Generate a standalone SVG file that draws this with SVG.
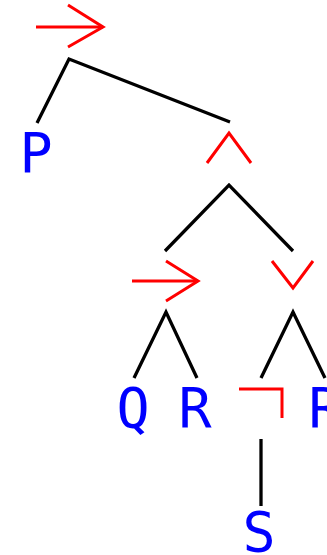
<svg xmlns="http://www.w3.org/2000/svg" width="327" height="555" viewBox="0 0 327 555">
<style>
.op{fill:none;stroke:#ff0000;stroke-width:3;stroke-linecap:butt;stroke-linejoin:miter}
.edge{fill:none;stroke:#000;stroke-width:3.3}
.lbl{font-family:"DejaVu Sans Mono","Liberation Mono",monospace;font-size:55px;fill:#0000ff;text-anchor:middle}
</style>
<rect width="327" height="555" fill="#fff"/>
<g id="connectors">
<polyline class="edge" points="37,123 69,59 230,122"/>
<polyline class="edge" points="165,251 229,185 293,251"/>
<polyline class="edge" points="134,378 166,312 197,378"/>
<polyline class="edge" points="261,378 293,312 325,378"/>
<line class="edge" x1="261" y1="439" x2="261" y2="506"/>
</g>
<g id="n-imp1">
<line class="op" x1="36" y1="27" x2="103" y2="27"/>
<polyline class="op" points="68,5 103,27 68,47"/>
</g>
<g id="n-P"><text class="lbl" x="36" y="172">P</text></g>
<g id="n-and"><polyline class="op" points="207,163 229,133 251,163"/></g>
<g id="n-imp2">
<line class="op" x1="132" y1="281" x2="198" y2="281"/>
<polyline class="op" points="166,261 198,281 166,301"/>
</g>
<g id="n-or"><polyline class="op" points="272,261 293,288 313,261"/></g>
<g id="n-Q"><text class="lbl" x="133" y="427">Q</text></g>
<g id="n-R1"><text class="lbl" x="195" y="427">R</text></g>
<g id="n-not"><polyline class="op" points="239,389 282,389 282,418"/></g>
<g id="n-R2"><text class="lbl" x="325" y="427">R</text></g>
<g id="n-S"><text class="lbl" x="259" y="551">S</text></g>
</svg>
